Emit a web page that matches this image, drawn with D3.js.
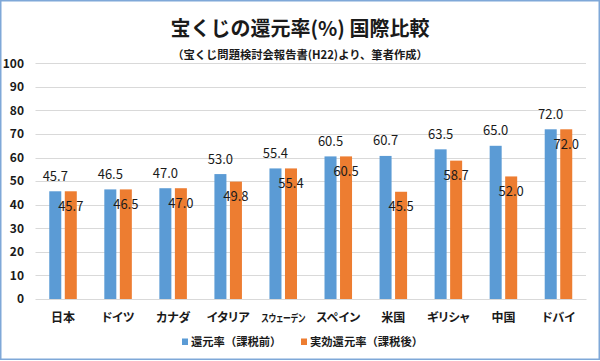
<!DOCTYPE html>
<html><head><meta charset="utf-8">
<script src="https://cdn.jsdelivr.net/npm/d3@7/dist/d3.min.js"></script>
<style>
html,body{margin:0;padding:0;background:#fff;}
svg{display:block;font-family:"Noto Sans CJK JP","Noto Sans",sans-serif;}
.palt{font-feature-settings:"palt";}
</style></head><body>
<svg id="c" width="600" height="361"></svg>
<script>
const categories = ["日本","ドイツ","カナダ","イタリア","スウェーデン","スペイン","米国","ギリシャ","中国","ドバイ"];
const seriesNames = ["還元率（課税前）","実効還元率（課税後）"];
const beforeTax = [45.7,46.5,47.0,53.0,55.4,60.5,60.7,63.5,65.0,72.0];
const afterTax  = [45.7,46.5,47.0,49.8,55.4,60.5,45.5,58.7,52.0,72.0];
const yTicks = [0,10,20,30,40,50,60,70,80,90,100];
const titleText = "宝くじの還元率(%) 国際比較";
const subtitleText = "（宝くじ問題検討会報告書(H22)より、筆者作成）";

const colors = ["#5B9BD5","#ED7D31"];
const svg = d3.select("#c");

svg.append("rect").attr("x",0.75).attr("y",0.75).attr("width",598.5).attr("height",358.5)
  .attr("fill","#fff").attr("stroke","#7FA8D8").attr("stroke-width",1.5);

const x = d3.scaleBand().domain(categories).range([35.5,586]).paddingInner(0).paddingOuter(0);
const xs = d3.scaleBand().domain([0,1]).range([0,x.bandwidth()]).paddingInner(0.226).paddingOuter(0.887);
const y = d3.scaleLinear().domain([0,100]).range([299,63.3]);

// gridlines
svg.append("g").selectAll("line").data(yTicks).join("line")
  .attr("x1",35.5).attr("x2",586)
  .attr("y1",d=>Math.round(y(d))+0.5).attr("y2",d=>Math.round(y(d))+0.5)
  .attr("stroke","#D9D9D9").attr("stroke-width",1);

// y labels
const yAxis = d3.axisLeft(y).tickValues(yTicks).tickSize(0).tickPadding(0);
const ga = svg.append("g").attr("transform","translate(24,0)").call(yAxis);
ga.select(".domain").remove();
ga.selectAll("text").attr("font-size",12).attr("font-weight","bold").attr("fill","#1a1a1a")
  .attr("font-family","'Noto Sans CJK JP',sans-serif");

const data = categories.map((c,i)=>({c, v:[beforeTax[i], afterTax[i]]}));

const g = svg.append("g").selectAll("g").data(data).join("g")
  .attr("transform",d=>`translate(${x(d.c)},0)`);

g.selectAll("rect").data(d=>d.v.map((v,k)=>({v,k}))).join("rect")
  .attr("x",d=>xs(d.k)).attr("width",xs.bandwidth())
  .attr("y",d=>y(d.v)).attr("height",d=>y(0)-y(d.v))
  .attr("fill",d=>colors[d.k]);

g.selectAll("text.lbl").data(d=>d.v.map((v,k)=>({v,k}))).join("text")
  .attr("class","lbl")
  .attr("x",d=>xs(d.k)+xs.bandwidth()/2)
  .attr("y",d=>d.k===0 ? y(d.v)-10.5 : y(d.v)+19.5)
  .attr("text-anchor","middle").attr("font-size",13).attr("fill","#1a1a1a")
  .text(d=>d.v.toFixed(1));

// category axis
const xAxis = d3.axisBottom(x).tickSize(0).tickPadding(0);
const gx = svg.append("g").attr("transform","translate(0,299)").call(xAxis);
gx.select(".domain").attr("stroke","#D9D9D9");
gx.selectAll("text").attr("class","palt").attr("font-size",12).attr("font-weight","bold").attr("fill","#1a1a1a")
  .attr("dy",0).attr("y",23).attr("font-family","'Noto Sans CJK JP',sans-serif")
  .each(function(){
    const w = this.getComputedTextLength();
    if (w > 47) {
      d3.select(this).attr("font-size",10.5).attr("textLength",44).attr("lengthAdjust","spacingAndGlyphs");
    }
  });

// title
svg.append("text").attr("x",300).attr("y",36).attr("text-anchor","middle")
  .attr("font-size",20).attr("font-weight","bold").attr("fill","#1a1a1a").text(titleText);
svg.append("text").attr("x",300).attr("y",59).attr("text-anchor","middle")
  .attr("font-size",11.3).attr("font-weight","bold").attr("fill","#1a1a1a").text(subtitleText);

// legend
const legX = [182, 301];
const lg = svg.append("g").selectAll("g").data(seriesNames).join("g")
  .attr("transform",(d,i)=>`translate(${legX[i]},338.5)`);
lg.append("rect").attr("width",6).attr("height",6.5).attr("fill",(d,i)=>colors[i]);
lg.append("text").attr("x",9).attr("y",7.8).attr("font-size",11.3).attr("font-weight","bold")
  .attr("fill","#1a1a1a").text(d=>d);
</script></body></html>
